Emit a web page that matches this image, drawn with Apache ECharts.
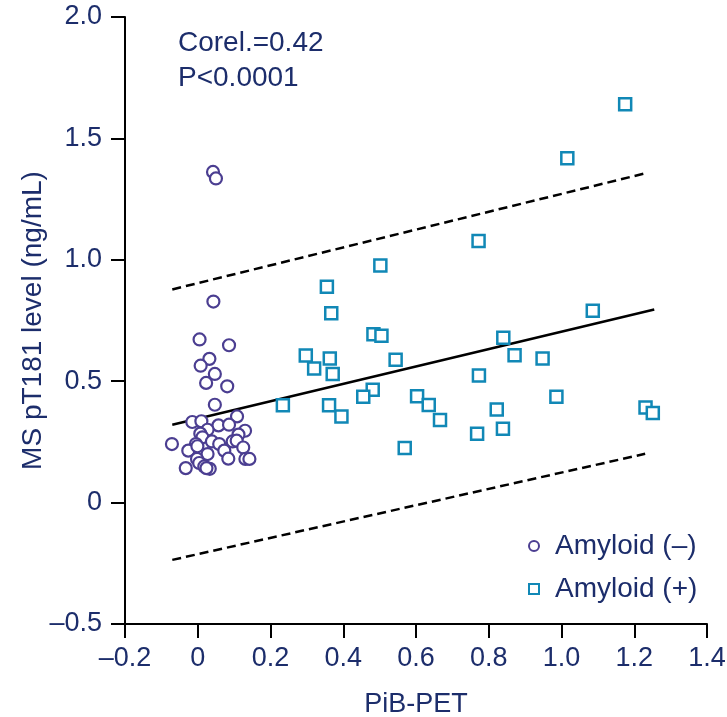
<!DOCTYPE html>
<html>
<head>
<meta charset="utf-8">
<script src="https://cdn.jsdelivr.net/npm/echarts@6/dist/echarts.min.js"></script>
<style>html,body{margin:0;padding:0;background:#fff}#c{width:727px;height:717px}</style>
</head>
<body>
<div id="c"></div>
<script>
var xTicks = [-0.2, 0, 0.2, 0.4, 0.6, 0.8, 1.0, 1.2, 1.4];
var xTickLabels = ['\u20130.2', '0', '0.2', '0.4', '0.6', '0.8', '1.0', '1.2', '1.4'];
var yTicks = [-0.5, 0, 0.5, 1.0, 1.5, 2.0];
var yTickLabels = ['\u20130.5', '0', '0.5', '1.0', '1.5', '2.0'];

var seriesNames = ['Amyloid (\u2013)', 'Amyloid (+)'];

var negX = [0.042,0.050,0.043,0.005,0.086,0.032,0.008,0.047,0.023,0.081,0.047,-0.015,0.010,0.108,0.057,0.086,0.027,0.007,0.130,0.112,-0.071,0.013,0.039,0.059,0.096,0.107,-0.005,-0.026,-0.001,0.125,0.073,0.027,-0.002,0.084,0.131,0.142,0.004,-0.033,0.018,0.033,0.024];
var negY = [1.362,1.335,0.828,0.672,0.648,0.592,0.564,0.530,0.493,0.479,0.403,0.332,0.335,0.355,0.318,0.321,0.300,0.284,0.296,0.280,0.241,0.269,0.252,0.241,0.252,0.255,0.241,0.214,0.232,0.227,0.214,0.200,0.180,0.181,0.180,0.180,0.163,0.142,0.149,0.139,0.142];

var posX = [0.502,0.355,0.367,0.483,0.505,0.297,0.363,0.544,0.320,0.371,0.481,0.455,0.234,0.361,0.395,0.603,0.635,0.666,0.569,1.175,1.016,0.772,1.086,0.840,0.871,0.948,0.773,0.986,0.822,1.231,1.251,0.839,0.768];
var posY = [0.977,0.889,0.780,0.693,0.687,0.606,0.593,0.588,0.552,0.530,0.465,0.436,0.401,0.401,0.355,0.438,0.402,0.340,0.225,1.641,1.418,1.077,0.790,0.679,0.607,0.593,0.523,0.436,0.383,0.392,0.369,0.304,0.284];

var fitX = [-0.07, 1.255];
var fitY = [0.321, 0.795];
var upperX = [-0.07, 1.23];
var upperY = [0.878, 1.356];
var lowerX = [-0.07, 1.23];
var lowerY = [-0.236, 0.201];

var annotationLines = ['Corel.=0.42', 'P<0.0001'];
var xName = 'PiB-PET';
var yName = 'MS pT181 level (ng/mL)';

function zip(a, b) { return a.map(function (v, i) { return [v, b[i]]; }); }
function fmt(ticks, labels) {
  return function (v) {
    for (var i = 0; i < ticks.length; i++) if (Math.abs(ticks[i] - v) < 1e-6) return labels[i];
    return '';
  };
}

var TXT = '#1c2d6b';
var FONT = '"Liberation Sans", Arial, sans-serif';
var PURPLE = '#4b3e91';
var CYAN = '#1188b6';

var chart = echarts.init(document.getElementById('c'), null, {renderer: 'canvas'});
chart.setOption({
  animation: false,
  backgroundColor: '#fff',
  grid: {left: 125, right: 20, top: 17, bottom: 93, containLabel: false, outerBoundsMode: 'none'},
  xAxis: {
    type: 'value', min: -0.2, max: 1.4, interval: 0.2,
    name: xName, nameLocation: 'middle', nameGap: 67, nameMoveOverlap: false,
    nameTextStyle: {color: TXT, fontSize: 27, fontFamily: FONT},
    axisLine: {onZero: false, lineStyle: {color: '#000', width: 2}},
    axisTick: {show: true, length: 14, lineStyle: {color: '#000', width: 2}},
    axisLabel: {color: TXT, fontSize: 27, fontFamily: FONT, margin: 21, formatter: fmt(xTicks, xTickLabels)},
    splitLine: {show: false}
  },
  yAxis: {
    type: 'value', min: -0.5, max: 2.0, interval: 0.5,
    name: yName, nameLocation: 'middle', nameGap: 78, nameRotate: 90, nameMoveOverlap: false,
    nameTextStyle: {color: TXT, fontSize: 28, fontFamily: FONT},
    axisLine: {onZero: false, lineStyle: {color: '#000', width: 2}},
    axisTick: {show: true, length: 14, lineStyle: {color: '#000', width: 2}},
    axisLabel: {color: TXT, fontSize: 27, fontFamily: FONT, margin: 23, formatter: fmt(yTicks, yTickLabels)},
    splitLine: {show: false}
  },
  legend: {
    orient: 'vertical', left: 523, top: 527,
    itemWidth: 10, itemHeight: 10, itemGap: 15,
    textStyle: {color: TXT, fontSize: 28, fontFamily: FONT, lineHeight: 28, padding: [0, 0, 0, 11]},
    data: seriesNames
  },
  graphic: [{
    type: 'text', left: 178, top: 26,
    style: {text: annotationLines.join('\n'), fill: TXT, fontSize: 28, fontFamily: FONT, lineHeight: 35}
  }],
  series: [
    {
      name: 'fit', type: 'line', data: zip(fitX, fitY), symbol: 'none', silent: true,
      lineStyle: {color: '#000', width: 2.5}, z: 1
    },
    {
      name: 'upper', type: 'line', data: zip(upperX, upperY), symbol: 'none', silent: true,
      lineStyle: {color: '#000', width: 2.5, type: [9, 5]}, z: 1
    },
    {
      name: 'lower', type: 'line', data: zip(lowerX, lowerY), symbol: 'none', silent: true,
      lineStyle: {color: '#000', width: 2.5, type: [9, 5]}, z: 1
    },
    {
      name: seriesNames[0], type: 'scatter', data: zip(negX, negY),
      symbol: 'circle', symbolSize: 12,
      itemStyle: {color: '#fff', borderColor: PURPLE, borderWidth: 2.2, opacity: 1}, z: 3
    },
    {
      name: seriesNames[1], type: 'scatter', data: zip(posX, posY),
      symbol: 'rect', symbolSize: 12,
      itemStyle: {color: '#fff', borderColor: CYAN, borderWidth: 2.5, opacity: 1}, z: 3
    }
  ]
});
</script>
</body>
</html>
